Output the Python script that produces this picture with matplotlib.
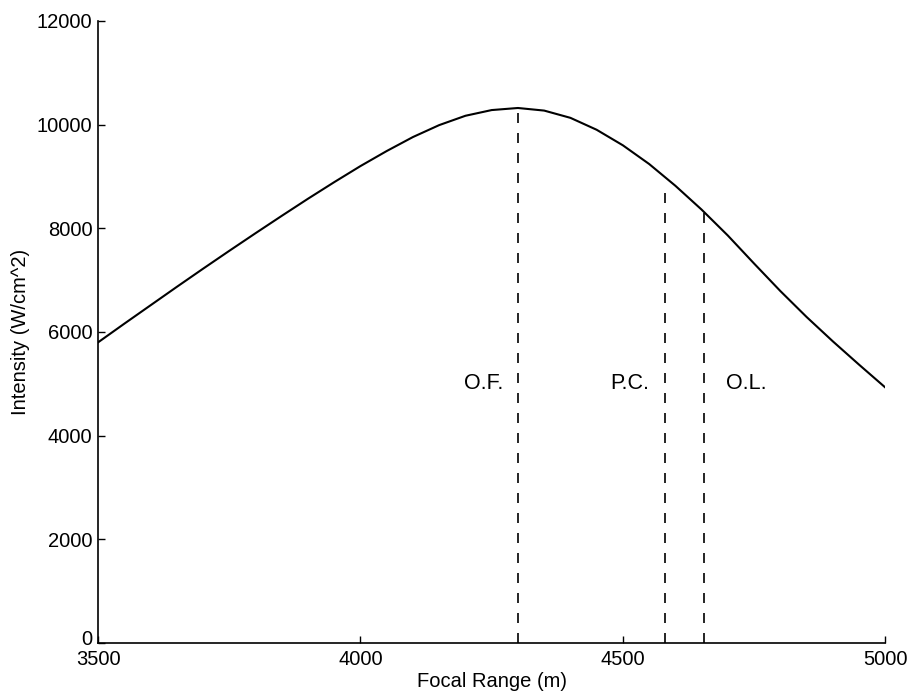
import numpy as np
import matplotlib
matplotlib.use('Agg')
import matplotlib.pyplot as plt
import matplotlib.transforms as mtransforms

plt.rcParams['font.family'] = ['Liberation Sans', 'DejaVu Sans']

# focal range (m) and intensity (W/cm^2)
focal_range = [3500, 3550, 3600, 3650, 3700, 3750, 3800, 3850, 3900, 3950,
               4000, 4050, 4100, 4150, 4200, 4250, 4300, 4350, 4400, 4450,
               4500, 4550, 4600, 4650, 4700, 4750, 4800, 4850, 4900, 4950, 5000]
intensity = [5800, 6160, 6515, 6870, 7220, 7565, 7905, 8240, 8570, 8890,
             9200, 9490, 9760, 9990, 10170, 10280, 10320, 10270, 10130, 9900,
             9600, 9240, 8820, 8360, 7860, 7320, 6790, 6290, 5820, 5370, 4930]

# vertical markers
mark_x = [4300, 4580, 4655]
mark_top = [10320, 8840, 8320]
mark_names = ['O.F.', 'P.C.', 'O.L.']
label_x = [4272, 4550, 4697]
label_ha = ['right', 'right', 'left']
label_y = 5000

x_ticks = [3500, 4000, 4500, 5000]
y_ticks = [0, 2000, 4000, 6000, 8000, 10000, 12000]

fig = plt.figure(figsize=(9.08, 6.96), dpi=100)
ax = fig.add_axes([0.108, 0.076, 0.867, 0.894])

ax.plot(focal_range, intensity, color='black', linewidth=1.5)

for xm, yt in zip(mark_x, mark_top):
    ax.plot([xm, xm], [0, yt], color='black', linewidth=1.2, dashes=(6, 6))

for name, lx, ha in zip(mark_names, label_x, label_ha):
    ax.text(lx, label_y, name, ha=ha, va='center', fontsize=15.5)

ax.set_xlim(3500, 5000)
ax.set_ylim(0, 12000)
ax.set_xticks(x_ticks)
ax.set_yticks(y_ticks)
ax.tick_params(direction='in', length=5, width=1, labelsize=14.5)
ax.tick_params(axis='x', pad=5)
ax.tick_params(axis='y', pad=4)

# the "0" sits just above "3500" like in the original
zero_lab = ax.get_yticklabels()[0]
zero_lab.set_transform(zero_lab.get_transform() +
                       mtransforms.ScaledTranslation(0, 4 / 72, fig.dpi_scale_trans))

ax.spines['top'].set_visible(False)
ax.spines['right'].set_visible(False)
ax.spines['left'].set_linewidth(1.2)
ax.spines['bottom'].set_linewidth(1.2)

ax.set_xlabel('Focal Range (m)', fontsize=14.5, labelpad=2)
ax.set_ylabel('Intensity (W/cm^2)', fontsize=14.5, labelpad=5)

fig.savefig('out.png', dpi=100)
